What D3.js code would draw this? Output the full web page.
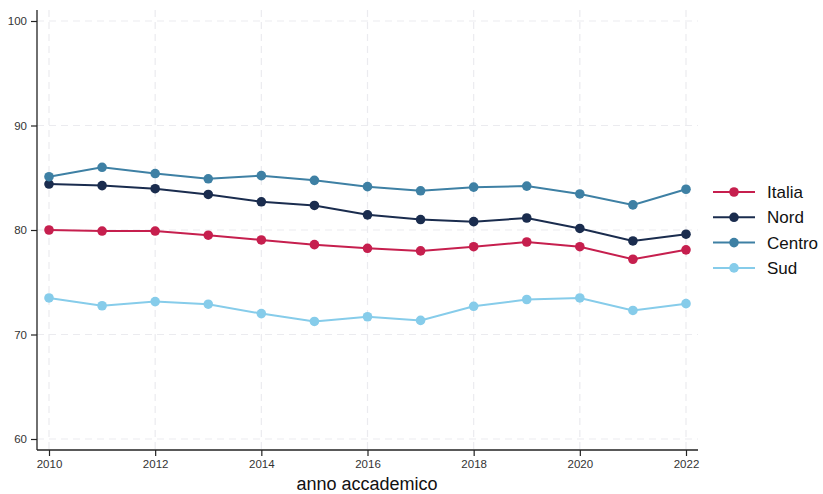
<!DOCTYPE html>
<html><head><meta charset="utf-8">
<script src="https://cdn.jsdelivr.net/npm/d3@7"></script>
<style>body{margin:0;background:#fff}svg{display:block;font-family:"Liberation Sans",Arial,sans-serif}</style>
</head><body><svg id="c" width="823" height="494"></svg>
<script>
const years = [2010,2011,2012,2013,2014,2015,2016,2017,2018,2019,2020,2021,2022];
const italia = [80.0,79.9,79.9,79.5,79.05,78.6,78.25,78.0,78.4,78.85,78.4,77.2,78.1];
const nord   = [84.4,84.25,83.95,83.4,82.7,82.35,81.45,81.0,80.8,81.15,80.15,78.95,79.6];
const centro = [85.1,86.0,85.4,84.9,85.2,84.75,84.15,83.75,84.1,84.2,83.45,82.4,83.9];
const sud    = [73.5,72.75,73.15,72.9,72.0,71.25,71.7,71.35,72.7,73.35,73.5,72.3,72.95];
const seriesNames = ["Italia","Nord","Centro","Sud"];
const seriesColors = ["#c61f4e","#1a2c4e","#3e80a4","#86ccea"];
const yTicks = [60,70,80,90,100];
const xTicks = [2010,2012,2014,2016,2018,2020,2022];
const xTitle = "anno accademico";

const series = [italia,nord,centro,sud];
const svg = d3.select("#c");
const x = d3.scaleLinear().domain([2010,2022]).range([49,686]);
const y = d3.scaleLinear().domain([60,100]).range([439,21]);
const pLeft = 37, pRight = 698, pTop = 10, pBottom = 450;

// grid
svg.append("g").selectAll("line").data(yTicks).join("line")
  .attr("x1",pLeft).attr("x2",pRight).attr("y1",d=>y(d)).attr("y2",d=>y(d))
  .attr("stroke","#ebebef").attr("stroke-width",1.2).attr("stroke-dasharray","7,5");
svg.append("g").selectAll("line").data(xTicks).join("line")
  .attr("y1",pTop).attr("y2",pBottom).attr("x1",d=>x(d)).attr("x2",d=>x(d))
  .attr("stroke","#ebebef").attr("stroke-width",1.2).attr("stroke-dasharray","7,5");

// axes
const ya = svg.append("g").attr("transform",`translate(${pLeft},0)`)
  .call(d3.axisLeft(y).tickValues(yTicks).tickSize(6).tickPadding(4).tickFormat(d3.format("d")));
ya.select(".domain").attr("d",`M0,${pTop}V${pBottom}`).attr("stroke","#222").attr("stroke-width",1.3);
const xa = svg.append("g").attr("transform",`translate(0,${pBottom})`)
  .call(d3.axisBottom(x).tickValues(xTicks).tickSize(6).tickPadding(4).tickFormat(d3.format("d")));
xa.select(".domain").attr("d",`M${pLeft},0H${pRight}`).attr("stroke","#222").attr("stroke-width",1.3);
svg.selectAll(".tick line").attr("stroke","#222").attr("stroke-width",1.2);
svg.selectAll(".tick text").attr("font-size",11.5).attr("fill","#333").attr("font-family","Liberation Sans, Arial, sans-serif");

svg.append("text").attr("x",367).attr("y",490).attr("text-anchor","middle")
  .attr("font-size",18).attr("fill","#111").text(xTitle);

// lines
const line = d3.line().x((d,i)=>x(years[i])).y(d=>y(d));
series.forEach((s,k)=>{
  svg.append("path").datum(s).attr("d",line).attr("fill","none")
    .attr("stroke",seriesColors[k]).attr("stroke-width",2);
  svg.append("g").selectAll("circle").data(s).join("circle")
    .attr("cx",(d,i)=>x(years[i])).attr("cy",d=>y(d)).attr("r",4.8)
    .attr("fill",seriesColors[k]);
});

// legend
const lg = svg.append("g");
seriesNames.forEach((n,k)=>{
  const yy = 192 + k*25.3;
  lg.append("line").attr("x1",713).attr("x2",755).attr("y1",yy).attr("y2",yy)
    .attr("stroke",seriesColors[k]).attr("stroke-width",2);
  lg.append("circle").attr("cx",734).attr("cy",yy).attr("r",4.8).attr("fill",seriesColors[k]);
  lg.append("text").attr("x",767).attr("y",yy+6).attr("font-size",17).attr("fill","#111").text(n);
});
</script></body></html>
